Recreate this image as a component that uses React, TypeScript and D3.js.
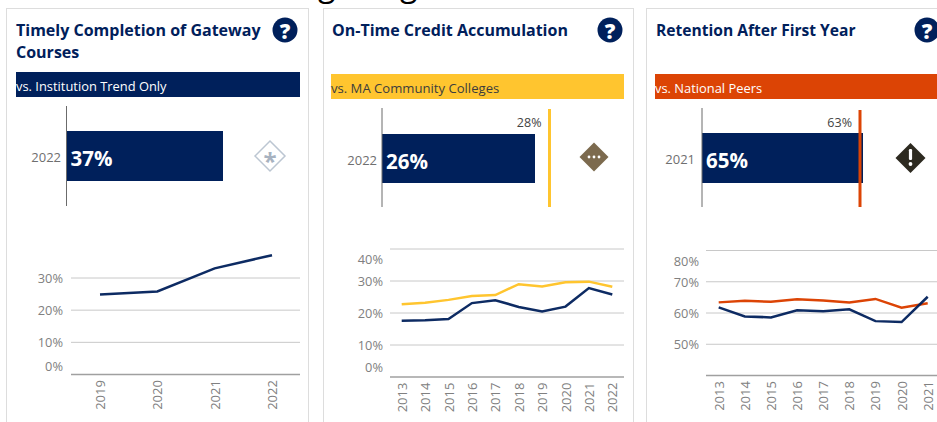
import React from "react";
import * as d3 from "d3";

const navy = "#00205b";
const gold = "#ffc52f";
const orange = "#dc4405";
const grey = "#6f6f6f";
const font = "'Open Sans', sans-serif";

const gatewayYears = ["2019", "2020", "2021", "2022"];
const gatewayValues = [24.9, 25.8, 33, 37.1];
const gatewayTicks = [0, 10, 20, 30];

const creditYears = ["2013", "2014", "2015", "2016", "2017", "2018", "2019", "2020", "2021", "2022"];
const creditValues = [17.6, 17.7, 18.1, 23.1, 24, 21.9, 20.5, 22, 27.8, 25.8];
const creditPeers = [22.7, 23.2, 24.1, 25.3, 25.6, 29, 28.3, 29.6, 29.8, 28.2];
const creditTicks = [0, 10, 20, 30, 40];

const retentionYears = ["2013", "2014", "2015", "2016", "2017", "2018", "2019", "2020", "2021"];
const retentionValues = [61.8, 58.9, 58.6, 60.9, 60.6, 61.2, 57.4, 57.1, 65.2];
const retentionPeers = [63.4, 63.9, 63.6, 64.4, 64, 63.4, 64.5, 61.7, 63.1];
const retentionTicks = [50, 60, 70, 80];

function LineChart(p: {
  years: string[];
  values: number[];
  peers?: number[];
  peerColor?: string;
  ticks: number[];
  domain: [number, number];
  yRange: [number, number];
  xFirst: number;
  xLast: number;
  gridX: [number, number];
  labelX: number;
  labelOffsets: Record<number, number>;
  baseline: number;
}) {
  const x = d3.scalePoint<string>().domain(p.years).range([p.xFirst, p.xLast]);
  const y = d3.scaleLinear().domain(p.domain).range(p.yRange);
  const line = d3
    .line<number>()
    .x((_, i) => x(p.years[i]) as number)
    .y((d) => y(d));
  return (
    <g fontFamily={font}>
      {p.ticks.map((t) => {
        const isBase = y(t) === p.baseline;
        return isBase ? null : (
          <line key={t} x1={p.gridX[0]} x2={p.gridX[1]} y1={y(t)} y2={y(t)} stroke="#c8c8c8" strokeWidth={1} />
        );
      })}
      <line x1={p.gridX[0]} x2={p.gridX[1]} y1={p.baseline} y2={p.baseline} stroke="#a0a0a0" strokeWidth={1.5} />
      {p.ticks.map((t) => (
        <text
          key={t}
          x={p.labelX}
          y={y(t) + (p.labelOffsets[t] ?? 0)}
          textAnchor="end"
          dominantBaseline="central"
          fontSize={12.8}
          fill="#808080"
        >
          {t}%
        </text>
      ))}
      {p.years.map((yr) => (
        <text
          key={yr}
          transform={`translate(${x(yr)},${p.baseline + 20.5}) rotate(-90)`}
          textAnchor="middle"
          dominantBaseline="central"
          fontSize={13}
          fill="#808080"
        >
          {yr}
        </text>
      ))}
      {p.peers && <path d={line(p.peers) as string} fill="none" stroke={p.peerColor} strokeWidth={2.5} />}
      <path d={line(p.values) as string} fill="none" stroke={navy} strokeOpacity={0.95} strokeWidth={2.5} />
    </g>
  );
}

function Help({ cx, cy }: { cx: number; cy: number }) {
  return (
    <g>
      <circle cx={cx} cy={cy} r={12.5} fill={navy} />
      <text
        x={cx}
        y={cy + 1}
        textAnchor="middle"
        dominantBaseline="central"
        fontFamily={font}
        fontWeight={800}
        fontSize={21}
        fill="#fff"
      >
        ?
      </text>
    </g>
  );
}

function Diamond({ cx, cy, r, kind }: { cx: number; cy: number; r: number; kind: "star" | "dots" | "alert" }) {
  const pts = `${cx},${cy - r} ${cx + r},${cy} ${cx},${cy + r} ${cx - r},${cy}`;
  if (kind === "star")
    return (
      <g>
        <polygon points={pts} fill="#fff" stroke="#bcc6d2" strokeWidth={1.5} />
        <text x={cx} y={cy + 4} textAnchor="middle" dominantBaseline="central" fontFamily={font} fontWeight={700} fontSize={24} fill="#a7b2c0">
          *
        </text>
      </g>
    );
  if (kind === "dots")
    return (
      <g>
        <polygon points={pts} fill="#7c6a4e" />
        {[-5, 0, 5].map((d) => (
          <circle key={d} cx={cx + d} cy={cy} r={1.4} fill="#fff" />
        ))}
      </g>
    );
  return (
    <g>
      <polygon points={pts} fill="#2d2a20" />
      <rect x={cx - 1.6} y={cy - 9} width={3.2} height={11} rx={1.2} fill="#fff" />
      <circle cx={cx} cy={cy + 6} r={1.9} fill="#fff" />
    </g>
  );
}

function Summary(p: {
  year: string;
  label: string;
  value: number;
  axisX: number;
  barEnd: number;
  axisY: [number, number];
  barY: [number, number];
  yearX: number;
  target?: number;
  targetX?: number;
  targetColor?: string;
  targetY?: [number, number];
}) {
  const mid = (p.barY[0] + p.barY[1]) / 2;
  const w = d3.scaleLinear().domain([0, p.value]).range([p.axisX, p.barEnd]);
  return (
    <g fontFamily={font}>
      <rect x={w(0)} y={p.barY[0]} width={w(p.value) - w(0)} height={p.barY[1] - p.barY[0]} fill={navy} />
      <line x1={p.axisX} x2={p.axisX} y1={p.axisY[0]} y2={p.axisY[1]} stroke="#6b6b6b" strokeWidth={1} />
      <text x={p.yearX} y={mid + 1} textAnchor="end" dominantBaseline="central" fontSize={13} fill={grey}>
        {p.year}
      </text>
      <text x={p.axisX + 4} y={mid + 2} dominantBaseline="central" fontSize={20.5} fontWeight={700} fill="#fff">
        {p.label}
      </text>
      {p.targetX !== undefined && (
        <>
          <line x1={p.targetX} x2={p.targetX} y1={p.targetY![0]} y2={p.targetY![1]} stroke={p.targetColor} strokeWidth={3} />
          <text x={p.targetX - 8} y={122} textAnchor="end" dominantBaseline="central" fontSize={12.5} fill="#444">
            {p.target}%
          </text>
        </>
      )}
    </g>
  );
}

export default function App() {
  return (
    <svg
      width={937}
      height={422}
      viewBox="0 0 937 422"
      style={{ position: "fixed", left: 0, top: 0, display: "block", background: "#fff" }}
    >
      <g fontFamily={font} fontSize={32} fill="#000">
        <text x={318} y={-4}>g</text>
        <text x={400} y={-4}>g</text>
      </g>
      <rect x={6.5} y={8.5} width={302} height={430} fill="#fff" stroke="#dddddd" />
      <rect x={323.5} y={8.5} width={310} height={430} fill="#fff" stroke="#dddddd" />
      <rect x={646.5} y={8.5} width={310} height={430} fill="#fff" stroke="#dddddd" />

      <g fontFamily={font} fontWeight={700} fontSize={16} fill={navy}>
        <text x={16} y={35.5}>Timely Completion of Gateway</text>
        <text x={16} y={57.5}>Courses</text>
        <text x={332} y={35.5}>On-Time Credit Accumulation</text>
        <text x={656} y={35.5} fontSize={15.6}>Retention After First Year</text>
      </g>
      <Help cx={285} cy={30} />
      <Help cx={610} cy={30} />
      <Help cx={927} cy={30} />

      <g fontFamily={font} fontSize={12.9}>
        <rect x={16} y={72} width={284} height={25} fill={navy} />
        <text x={16} y={86} dominantBaseline="central" fill="#fff">vs. Institution Trend Only</text>
        <rect x={331} y={74} width={293} height={25} fill={gold} />
        <text x={331} y={88} dominantBaseline="central" fill="#3d3d3d" fontSize={13.1}>vs. MA Community Colleges</text>
        <rect x={655} y={74} width={282} height={25} fill={orange} />
        <text x={655} y={88} dominantBaseline="central" fill="#fff">vs. National Peers</text>
      </g>

      <Summary year="2022" label="37%" value={37} axisX={66.5} barEnd={223} axisY={[106, 206]} barY={[131, 181]} yearX={61} />
      <Diamond cx={270} cy={156} r={15} kind="star" />
      <Summary year="2022" label="26%" value={26} axisX={382} barEnd={535} axisY={[108, 207]} barY={[134, 183]} yearX={377}
        target={28} targetX={549.5} targetColor={gold} targetY={[109, 207]} />
      <Diamond cx={594} cy={157} r={14.5} kind="dots" />
      <Summary year="2021" label="65%" value={65} axisX={702} barEnd={863} axisY={[108, 207]} barY={[133, 183]} yearX={695}
        target={63} targetX={860} targetColor={orange} targetY={[110, 207]} />
      <Diamond cx={910.5} cy={158} r={15} kind="alert" />

      <LineChart years={gatewayYears} values={gatewayValues} ticks={gatewayTicks} domain={[0, 30]} yRange={[374.5, 278]}
        xFirst={100} xLast={272} gridX={[71, 300]} labelX={63} labelOffsets={{ 0: -9 }} baseline={374.5} />
      <LineChart years={creditYears} values={creditValues} peers={creditPeers} peerColor={gold} ticks={creditTicks}
        domain={[0, 40]} yRange={[377, 249]} xFirst={401.7} xLast={612.3} gridX={[390, 624]} labelX={383}
        labelOffsets={{ 0: -10, 40: 10 }} baseline={377} />
      <LineChart years={retentionYears} values={retentionValues} peers={retentionPeers} peerColor={orange} ticks={retentionTicks}
        domain={[40, 80]} yRange={[375.5, 250.5]} xFirst={718.7} xLast={927.7} gridX={[706, 937]} labelX={699}
        labelOffsets={{ 80: 10 }} baseline={375.5} />
    </svg>
  );
}
